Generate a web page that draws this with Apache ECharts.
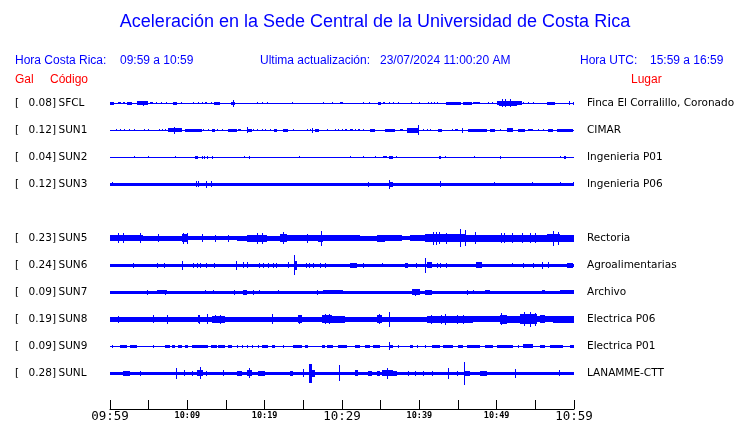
<!DOCTYPE html>
<html><head><meta charset="utf-8">
<script src="https://cdn.jsdelivr.net/npm/echarts@6/dist/echarts.min.js"></script>
<style>html,body{margin:0;padding:0;background:#fff}#c{width:740px;height:423px}</style>
</head><body><div id="c"></div>
<script>
// ---------- data ----------
const titleText = 'Aceleración en la Sede Central de la Universidad de Costa Rica';
const horaLocal = ['09:59', '10:59'];
const horaUTC = ['15:59', '16:59'];
const actualizacion = '23/07/2024 11:00:20 AM';

const codes  = ['SFCL','SUN1','SUN2','SUN3','SUN4','SUN5','SUN6','SUN7','SUN8','SUN9','SUNL'];
const gals   = [0.08, 0.12, 0.04, 0.12, null, 0.23, 0.24, 0.09, 0.19, 0.09, 0.28];
const places = ['Finca El Corralillo, Coronado','CIMAR','Ingenieria P01','Ingenieria P06','',
                'Rectoria','Agroalimentarias','Archivo','Electrica P06','Electrica P01','LANAMME-CTT'];
// background noise half-amplitude of each trace (trace units; 27 units between traces)
const baseAmp = [0.5, 0.5, 0.5, 1.7, null, 2.0, 1.7, 1.7, 2.3, 0.7, 1.7];

// bursts: [start minute, end minute, half amplitude]  (minutes after 09:59)
const evSFCL = [[0,0.56,1.3],[1.0,1.4,1.2],[1.7,2.0,1.0],[2.2,2.8,1.3],[3.45,4.95,1.8],[4.3,4.3,2.5],[5.17,5.56,1.0],[5.9,5.9,1.0],[6.6,6.6,1.0],[7.2,7.2,1.0],[8.2,8.6,1.5],[9.18,9.18,1.0],[10.77,10.77,1.0],[11.42,11.42,1.0],[11.86,11.86,1.0],[12.3,12.5,1.2],[13.06,13.06,1.0],[13.5,14.2,1.3],[15.65,16.16,1.5],[15.94,15.94,3.7],[18.97,18.97,1.0],[19.62,19.62,1.0],[20.26,20.26,1.0],[23.57,23.57,1.0],[27.58,27.58,1.0],[28.67,28.67,1.0],[29.8,30.1,1.0],[32.68,32.68,1.0],[33.53,33.53,1.0],[34.69,35.0,1.3],[35.34,35.56,1.0],[36.1,36.1,1.0],[36.6,36.7,1.0],[37.3,37.4,1.0],[38.88,38.88,1.0],[40.0,40.0,1.0],[41.12,41.12,1.0],[41.5,41.5,1.0],[41.9,41.9,1.0],[42.28,42.28,1.0],[43.45,45.35,1.7],[45.65,46.77,1.3],[46.94,47.84,1.2],[48.9,48.9,1.0],[49.4,49.5,1.0],[50.0,53.24,1.8],[50.34,52.59,2.6],[50.7,50.7,3.8],[51.1,51.1,3.8],[51.7,51.7,3.8],[53.41,53.41,1.0],[54.1,54.1,1.0],[54.7,54.7,1.0],[56.47,57.54,1.3],[59.39,59.39,2.0],[59.85,59.91,1.5]];
const evSUN1 = [[0.74,0.74,1.0],[1.29,1.29,1.0],[1.85,1.85,1.0],[2.46,2.46,1.0],[3.14,3.14,1.0],[4.44,4.44,1.0],[4.95,4.95,1.0],[6.34,6.34,1.0],[6.72,6.72,1.0],[7.11,7.11,1.0],[7.54,9.27,2.0],[8.31,8.31,3.3],[9.7,11.86,1.5],[12.03,12.03,1.2],[12.67,12.67,1.2],[13.15,13.58,1.5],[13.8,13.8,1.2],[14.44,14.44,1.2],[15.3,16.38,1.5],[16.59,16.94,1.2],[17.68,18.32,1.5],[17.68,17.68,2.8],[18.49,18.49,1.2],[19.0,19.0,1.2],[19.62,19.62,1.2],[20.04,20.04,1.2],[20.69,20.69,1.2],[21.2,21.56,1.3],[22.41,23.06,1.5],[23.7,23.7,1.2],[25.44,25.44,1.2],[25.86,25.86,1.2],[26.16,26.16,2.7],[26.51,27.03,1.3],[28.02,28.02,1.2],[29.1,29.1,1.2],[29.48,29.48,1.2],[30.0,30.0,1.2],[30.4,30.6,1.2],[31.0,31.4,1.2],[31.7,31.7,1.2],[32.07,32.33,1.2],[32.76,32.76,1.2],[33.62,34.27,1.3],[35.56,36.86,1.5],[37.5,37.93,1.2],[38.37,39.87,2.6],[39.87,39.87,5.0],[40.51,40.51,1.2],[40.95,40.95,1.2],[41.38,41.38,1.2],[42.45,42.89,1.5],[44.19,44.19,1.0],[44.61,45.04,1.2],[45.48,45.48,2.3],[46.33,48.71,1.5],[49.14,49.79,1.3],[50.43,50.43,1.0],[51.3,52.15,1.8],[52.8,53.66,1.5],[54.05,54.7,1.2],[55.39,55.39,1.0],[56.0,56.0,1.0],[56.68,57.32,1.3],[57.76,59.91,1.5]];
const evSUN2 = [[3.14,3.14,1.2],[4.87,4.87,1.2],[8.41,8.41,1.0],[10.99,11.42,1.5],[11.86,11.86,1.3],[12.16,12.16,1.5],[12.5,12.5,1.5],[13.15,13.15,1.5],[17.37,17.37,1.0],[17.97,17.97,1.3],[24.44,24.44,1.2],[31.04,31.04,1.0],[32.76,32.76,1.0],[34.27,34.27,1.2],[35.34,35.77,1.0],[36.12,36.56,1.7],[36.98,36.98,1.0],[42.58,42.76,1.5],[43.32,43.32,1.2],[47.07,47.07,1.0],[50.43,50.43,1.5],[58.19,58.19,1.2],[58.71,58.97,1.3]];
const evSUN3 = [[0.22,0.22,2.2],[11.08,11.08,2.8],[11.4,11.4,2.8],[12.38,12.55,3.5],[13.06,13.23,3.2],[33.4,33.4,2.3],[36.12,36.12,4.7],[36.12,36.56,2.7],[42.67,42.67,3.2],[49.66,49.66,2.2],[54.53,54.53,2.2],[58.19,58.19,2.2],[59.91,59.91,2.2]];
const evSUN4 = [];
const evSUN5 = [[0,4.31,2.8],[1.08,1.08,5],[1.65,1.65,5],[3.88,3.88,5],[4.31,9.27,2.3],[6.25,6.25,4],[9.27,10.14,4.0],[9.5,9.5,5.5],[9.9,9.9,5.5],[11.86,11.86,4],[13.58,13.58,3.5],[15.3,15.3,3.5],[16.38,17.68,2.3],[17.68,20.26,3.3],[18.97,18.97,5.3],[19.62,19.62,5.3],[20.26,21.98,2.3],[21.98,22.85,3.8],[22.41,22.41,6],[22.85,26.94,2.8],[25.44,25.44,4.5],[26.94,27.59,3.5],[27.25,27.25,7.3],[27.59,29.74,2.8],[29.74,32.33,3.0],[32.33,34.48,2.3],[34.48,35.56,3.5],[35.56,37.72,3.0],[38.8,40.74,2.8],[40.74,45.91,4.2],[41.8,41.8,6.5],[42.2,42.2,6.5],[42.6,42.6,6.2],[43.4,43.4,5.5],[45.26,45.26,8.8],[45.91,45.91,8.0],[45.91,56.5,3.3],[47.2,47.2,6],[50.5,50.5,5],[51.0,51.0,5],[51.94,51.94,5],[53.24,53.24,5],[54.31,54.31,5],[55.0,55.0,5],[56.5,58.19,4.0],[57.32,57.32,7.5],[57.97,57.97,6.7],[58.19,60,3.5]];
const evSUN6 = [[3.01,3.01,2.5],[6.12,6.12,2.5],[6.98,6.98,2.5],[9.35,9.35,4.5],[10.77,10.77,2.5],[11.21,11.21,2.5],[11.64,11.64,2.5],[12.41,12.41,2.5],[13.49,13.49,2.5],[16.29,16.29,4.7],[17.16,17.16,3],[17.68,17.68,3],[19.31,19.31,2.5],[19.82,19.82,2.5],[20.47,20.47,2.5],[21.04,21.04,2.5],[21.47,21.47,2.5],[23.06,23.06,3],[23.79,23.79,10.2],[23.79,24.23,4.5],[25.35,25.35,2.5],[25.75,25.75,2.5],[26.29,26.29,2.5],[27.16,27.16,2.5],[27.8,27.8,2.5],[31.04,31.9,2.3],[32.76,32.76,2.5],[35.13,35.13,2],[38.15,38.57,2.7],[39.57,39.57,2.5],[40.73,40.73,7.7],[41.03,41.6,3.0],[42.25,42.25,2.5],[42.67,42.67,2.5],[43.45,43.45,2.5],[47.33,48.06,2.8],[51.94,51.94,2],[53.45,53.45,2.7],[54.66,54.66,2.5],[55.82,55.82,3.3],[56.68,56.68,3],[59.06,59.91,2.3]];
const evSUN7 = [[4.75,4.75,2.5],[6.12,7.41,2.1],[7.11,7.11,2.7],[12.28,12.28,2.2],[13.28,13.28,2.2],[16.07,16.07,2.7],[17.24,17.68,2.5],[18.53,18.53,2.7],[19.31,19.31,2.2],[21.76,21.76,2.2],[26.73,26.73,2.7],[27.59,30.17,2.0],[39.07,40.13,2.8],[39.5,39.5,3.3],[40.73,41.6,2.3],[46.12,46.12,2.5],[46.98,46.98,2.2],[48.49,49.14,2.1],[55.82,56.25,2.2],[58.19,60,2.0]];
const evSUN8 = [[0,1.94,2.6],[1.0,1.0,3.5],[4.1,7.11,2.7],[5.5,5.5,3.8],[7.33,7.33,4.5],[7.54,11.21,2.5],[11.34,11.64,4.0],[11.5,11.5,4.5],[12.5,12.5,5],[13.15,14.87,3.3],[13.6,13.6,4.2],[14.22,14.22,4.5],[14.87,20.04,2.6],[20.91,21.12,5],[21.34,23.5,2.6],[24.35,24.79,4.0],[24.5,24.5,4.5],[24.79,26.94,2.6],[27.38,28.67,4.0],[27.8,27.8,5],[28.3,28.3,5],[28.67,30.39,3.3],[29.74,31.04,2.7],[31.04,34.49,2.5],[34.49,35.13,4.0],[34.8,34.8,5],[36.12,36.12,7.5],[38.37,40.95,2.7],[40.95,46.98,3.5],[41.5,41.5,4.5],[42.8,42.8,4.5],[43.32,43.32,5.5],[44.9,44.9,4.5],[45.7,45.7,4.5],[46.98,50.43,3.0],[50.43,51.3,4.5],[50.6,50.6,6],[51.3,53.02,3.3],[53.02,55.18,5.0],[53.5,53.5,7],[54.31,54.31,7.5],[54.9,54.9,6.5],[55.18,57.32,3.0],[55.6,56.25,4.0],[57.32,60,3.3]];
const evSUN9 = [[0.22,0.22,1.5],[1.29,2.16,1.5],[2.59,3.45,1.5],[5.6,5.6,1.5],[7.11,7.76,1.5],[7.97,8.41,1.5],[8.84,9.27,1.5],[9.7,10.14,1.5],[10.64,12.71,1.5],[13.06,13.8,1.5],[14.01,14.87,1.5],[15.22,15.74,1.5],[16.38,16.38,1.5],[17.03,17.03,1.5],[17.68,17.68,1.5],[18.32,18.53,1.5],[19.18,19.18,1.5],[19.62,20.47,1.5],[20.91,21.34,1.5],[22.41,22.41,1.5],[23.7,24.79,1.5],[25.22,25.65,1.5],[27.37,27.8,1.5],[28.02,28.88,1.5],[29.52,30.6,1.5],[31.68,32.33,1.5],[32.98,33.62,1.5],[34.05,34.91,1.5],[36.12,36.12,3.8],[36.2,36.6,1.5],[37.2,37.2,1.5],[38.8,39.22,1.5],[39.66,39.66,1.5],[40.73,40.73,1.5],[41.6,42.67,1.5],[43.1,44.4,1.5],[45.05,45.7,1.5],[46.12,47.84,1.5],[48.49,49.57,1.5],[50.0,52.15,1.5],[52.8,52.8,1.5],[53.45,54.74,2.0],[55.6,56.25,1.5],[56.9,58.62,1.5],[59.5,60,1.5]];
const evSUNL = [[1.72,2.59,2.5],[3.88,3.88,2.5],[8.53,8.53,5.5],[9.61,9.61,3],[10.64,10.64,2.5],[11.21,12.07,3.0],[11.68,11.68,5.8],[12.38,12.38,2.5],[14.65,14.65,3],[16.38,17.03,2.3],[17.68,18.32,2.8],[18.01,18.01,5],[19.18,20.04,2.3],[23.27,23.7,2.5],[25.0,25.0,4.2],[25.73,26.08,9.5],[26.08,26.5,3.5],[29.65,29.65,8],[31.68,32.11,3.0],[33.41,33.84,2.7],[34.48,34.91,2.7],[35.13,36.63,2.8],[35.78,35.78,5.3],[36.63,37.07,2.3],[38.57,38.57,2.5],[39.44,39.44,2.5],[40.43,40.43,2.5],[41.6,41.6,2.5],[43.66,43.88,5.3],[44.83,44.83,2.5],[45.78,45.78,11.3],[45.9,46.5,2.3],[47.84,48.71,2.7],[52.37,52.37,4.7],[58.1,58.1,3]];
const events = [evSFCL, evSUN1, evSUN2, evSUN3, evSUN4, evSUN5, evSUN6, evSUN7, evSUN8, evSUN9, evSUNL];

const tickLabels = ['09:59','','10:09','','10:19','','10:29','','10:39','','10:49','','10:59'];
const majorLabels = ['09:59','10:29','10:59'];

// ---------- chart ----------
const ROW = 27;              // trace units between consecutive traces
const TRACE = '#0000ff';
const BLUE = '#0000ff';
const RED = '#ff0000';
const chart = echarts.init(document.getElementById('c'), null, {renderer: 'canvas'});

function renderItem(params, api) {
  const i = api.value(0);
  const yc = i * ROW;
  const cy = api.coord([0, yc])[1];
  const children = [];
  const band = (t0, t1, amp) => {
    const a = api.coord([t0, yc + amp]), b = api.coord([t1, yc - amp]);
    const half = Math.abs(a[1] - cy);
    const x0 = Math.round(a[0]);
    const x1 = Math.max(x0 + 1, Math.round(b[0]));
    const h = Math.max(1, Math.round(2 * half));
    children.push({type: 'rect', shape: {x: x0, y: Math.round(cy - h / 2), width: x1 - x0, height: h},
      style: {fill: TRACE}, silent: true});
  };
  band(0, 60, baseAmp[i]);
  events[i].forEach(e => band(e[0], e[1], e[2]));
  const f = '10.5px "DejaVu Sans"';
  children.push({type: 'text', style: {text: '[', x: 15, y: cy, font: f, fill: '#000', align: 'left', verticalAlign: 'middle'}});
  children.push({type: 'text', style: {text: gals[i].toFixed(2) + ']', x: 56, y: cy, font: f, fill: '#000', align: 'right', verticalAlign: 'middle'}});
  children.push({type: 'text', style: {text: codes[i], x: 58.5, y: cy, font: f, fill: '#000', align: 'left', verticalAlign: 'middle'}});
  children.push({type: 'text', style: {text: places[i], x: 587, y: cy, font: f, fill: '#000', align: 'left', verticalAlign: 'middle'}});
  return {type: 'group', children};
}

const hf = '12px "Liberation Sans"';
const option = {
  animation: false,
  backgroundColor: '#fff',
  grid: {left: 110, right: 166, top: 76, bottom: 14},
  xAxis: {
    type: 'value', min: 0, max: 60, interval: 5,
    axisLine: {onZero: false, lineStyle: {color: '#000', width: 1}},
    axisTick: {inside: true, length: 9, lineStyle: {color: '#000', width: 1}},
    splitLine: {show: false},
    axisLabel: {
      interval: 0, margin: 1, showMinLabel: true, showMaxLabel: true, hideOverlap: false,
      formatter: v => {
        const lab = tickLabels[Math.round(v / 5)] || '';
        if (!lab) return '';
        return majorLabels.includes(lab) ? '{b|' + lab + '}' : '{s|' + lab + '}';
      },
      rich: {
        b: {fontFamily: 'DejaVu Sans Mono', fontSize: 12.5, lineHeight: 13, color: '#000'},
        s: {fontFamily: 'DejaVu Sans Mono', fontSize: 8.5, fontWeight: 'bold', lineHeight: 12, color: '#000'}
      }
    }
  },
  yAxis: {type: 'value', inverse: true, min: -ROW, max: ROW * 11 + ROW / 3, show: false},
  series: [{
    type: 'custom', clip: false, renderItem,
    data: codes.map((c, i) => [i]).filter(d => gals[d[0]] !== null)
  }],
  graphic: [
    {type: 'text', style: {text: titleText, x: 375, y: 22, font: '18px "Liberation Sans"', fill: BLUE, align: 'center', verticalAlign: 'middle'}},
    {type: 'text', style: {text: 'Hora Costa Rica:', x: 15, y: 61, font: hf, fill: BLUE, verticalAlign: 'middle'}},
    {type: 'text', style: {text: horaLocal[0] + ' a ' + horaLocal[1], x: 120, y: 61, font: hf, fill: BLUE, verticalAlign: 'middle'}},
    {type: 'text', style: {text: 'Ultima actualización:', x: 260, y: 61, font: hf, fill: BLUE, verticalAlign: 'middle'}},
    {type: 'text', style: {text: actualizacion, x: 380, y: 61, font: hf, fill: BLUE, verticalAlign: 'middle'}},
    {type: 'text', style: {text: 'Hora UTC:', x: 580, y: 61, font: hf, fill: BLUE, verticalAlign: 'middle'}},
    {type: 'text', style: {text: horaUTC[0] + ' a ' + horaUTC[1], x: 650, y: 61, font: hf, fill: BLUE, verticalAlign: 'middle'}},
    {type: 'text', style: {text: 'Gal', x: 15, y: 80, font: hf, fill: RED, verticalAlign: 'middle'}},
    {type: 'text', style: {text: 'Código', x: 50, y: 80, font: hf, fill: RED, verticalAlign: 'middle'}},
    {type: 'text', style: {text: 'Lugar', x: 631, y: 80, font: hf, fill: RED, verticalAlign: 'middle'}}
  ]
};
chart.setOption(option);
</script>
</body></html>
